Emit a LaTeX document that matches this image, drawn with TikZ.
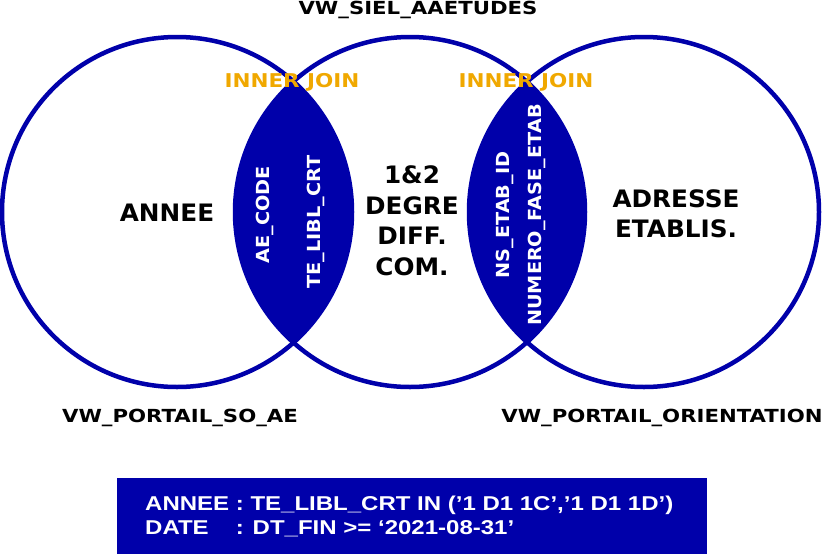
\documentclass[tikz,border=0pt]{standalone}
\usepackage{fontspec}
\setmainfont{DejaVu Sans}
\newfontfamily\titlefont{DejaVu Sans}[FakeStretch=1.18]
\newfontfamily\joinfont{DejaVu Sans}[FakeStretch=1.13]
\newfontfamily\zonefont{DejaVu Sans}[FakeStretch=1.03]
\newfontfamily\keyfont{DejaVu Sans}[FakeStretch=1.07]
\newfontfamily\boxfont{Liberation Sans}[FakeStretch=1.2]
\usetikzlibrary{positioning}
\definecolor{vblue}{HTML}{0000AA}
\definecolor{vorange}{HTML}{F0A800}
\tikzset{
  every picture/.style={font=\bfseries},
  set/.style={draw=vblue, line width=4.5pt},
  lens/.style={fill=vblue},
  title/.style={font=\titlefont\bfseries\fontsize{18}{21}\selectfont, inner sep=0pt},
  zone/.style={font=\zonefont\bfseries\fontsize{24}{30.5}\selectfont, align=center, inner sep=0pt},
  joinlbl/.style={font=\joinfont\bfseries\fontsize{19}{22}\selectfont, text=vorange, inner sep=0pt},
  key/.style={font=\keyfont\bfseries\fontsize{18}{20}\selectfont, text=white, rotate=90, inner sep=0pt},
  filter/.style={text=white, font=\boxfont\bfseries\fontsize{20}{24}\selectfont, align=left, anchor=west, inner sep=0pt},
}

\begin{document}
\begin{tikzpicture}[x=1pt, y=-1pt]
  \useasboundingbox (0,0) rectangle (828,555);
  \coordinate (ae) at (177,212);
  \coordinate (siel) at (410,212);
  \coordinate (orient) at (644,212);
  % intersections
  \begin{scope}
    \clip (ae) circle (175);
    \fill[lens] (siel) circle (175);
  \end{scope}
  \begin{scope}
    \clip (siel) circle (175);
    \fill[lens] (orient) circle (175);
  \end{scope}
  \draw[set] (ae) circle (175);
  \draw[set] (siel) circle (175);
  \draw[set] (orient) circle (175);

  \node[title] (tsiel) at (418,10) {VW\_SIEL\_AAETUDES};
  \node[title] (tae) at (180,418) {VW\_PORTAIL\_SO\_AE};
  \node[title] (torient) at (662,418) {VW\_PORTAIL\_ORIENTATION};

  \node[joinlbl] (j1) at (292,82) {INNER JOIN};
  \node[joinlbl] (j2) at (526,82) {INNER JOIN};

  \node[zone] (annee) at (167,213) {ANNEE};
  \node[zone] (degre) at (412,221) {1\&2\\DEGRE\\DIFF.\\COM.};
  \node[zone] (adresse) at (676,214) {ADRESSE\\ETABLIS.};

  \node[key] (aecode) at (265,215) {AE\_CODE};
  \node[key] (libl) at (316,222) {TE\_LIBL\_CRT};
  \node[key] (etabid) at (505,215) {NS\_ETAB\_ID};
  \node[key] (fase) at (537,215) {NUMERO\_FASE\_ETAB};

  \fill[vblue] (117,478) rectangle (707,554);
  \node[filter] (cond) at (145,516) {ANNEE : TE\_LIBL\_CRT IN (’1 D1 1C’,’1 D1 1D’)\\
    \rlap{DATE}\phantom{ANNEE }: DT\_FIN >= ‘2021-08-31’};
\end{tikzpicture}
\end{document}
